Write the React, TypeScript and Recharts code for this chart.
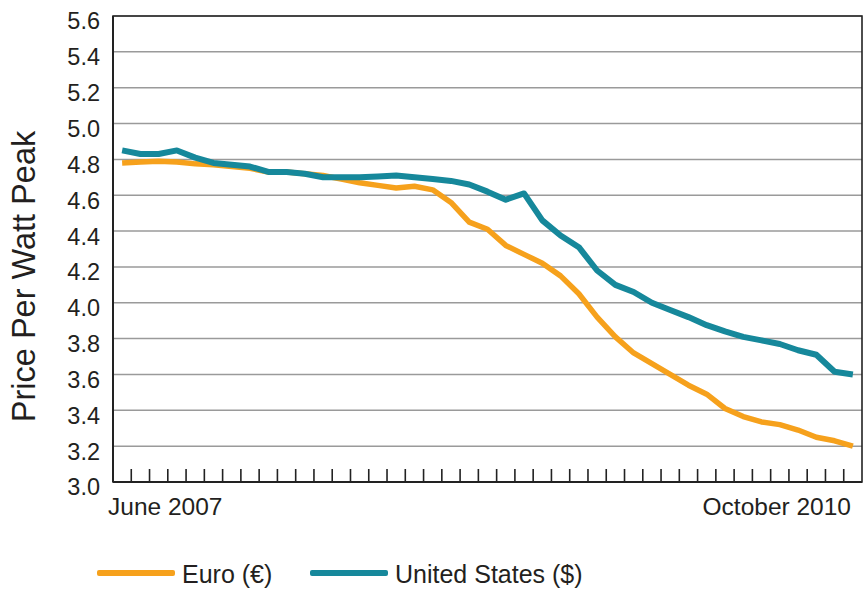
import React from 'react';
import { LineChart, Line, XAxis, YAxis, CartesianGrid, Legend, ReferenceArea, Label } from 'recharts';

const months = [
  'Jun 2007', 'Jul 2007', 'Aug 2007', 'Sep 2007', 'Oct 2007', 'Nov 2007', 'Dec 2007',
  'Jan 2008', 'Feb 2008', 'Mar 2008', 'Apr 2008', 'May 2008', 'Jun 2008', 'Jul 2008',
  'Aug 2008', 'Sep 2008', 'Oct 2008', 'Nov 2008', 'Dec 2008', 'Jan 2009', 'Feb 2009',
  'Mar 2009', 'Apr 2009', 'May 2009', 'Jun 2009', 'Jul 2009', 'Aug 2009', 'Sep 2009',
  'Oct 2009', 'Nov 2009', 'Dec 2009', 'Jan 2010', 'Feb 2010', 'Mar 2010', 'Apr 2010',
  'May 2010', 'Jun 2010', 'Jul 2010', 'Aug 2010', 'Sep 2010', 'Oct 2010',
];

const euroPrices = [
  4.78, 4.785, 4.79, 4.785, 4.775, 4.77, 4.76, 4.75, 4.73, 4.73, 4.72, 4.71, 4.69, 4.67,
  4.655, 4.64, 4.65, 4.63, 4.56, 4.45, 4.41, 4.32, 4.27, 4.22, 4.15, 4.05, 3.92, 3.81,
  3.72, 3.66, 3.6, 3.54, 3.49, 3.41, 3.365, 3.335, 3.32, 3.29, 3.25, 3.23, 3.2,
];

const usdPrices = [
  4.85, 4.83, 4.83, 4.85, 4.81, 4.78, 4.77, 4.76, 4.73, 4.73, 4.72, 4.7, 4.7, 4.7,
  4.705, 4.71, 4.7, 4.69, 4.68, 4.66, 4.62, 4.575, 4.61, 4.46, 4.375, 4.31, 4.18, 4.1,
  4.06, 4.0, 3.96, 3.92, 3.875, 3.84, 3.81, 3.79, 3.77, 3.735, 3.71, 3.615, 3.6,
];

const yTicks = [3.0, 3.2, 3.4, 3.6, 3.8, 4.0, 4.2, 4.4, 4.6, 4.8, 5.0, 5.2, 5.4, 5.6];
const xEdgeLabels = ['June 2007', 'October 2010'];
const seriesNames = ['Euro (€)', 'United States ($)'];

const data = months.map((m, i) => ({ idx: i, month: m, euro: euroPrices[i], usd: usdPrices[i] }));
const xTicks = [-0.5, ...months.slice(1).map((_, i) => i + 0.5), months.length - 0.5];

const FONT = "'Liberation Sans', Arial, sans-serif";
const TEXT = '#231f20';
const ORANGE = '#F6A11C';
const TEAL = '#16889B';

const XTick = (props: any) => {
  const { x, y, payload } = props;
  const v = payload.value;
  if (v < 0) {
    return (
      <text x={x - 5} y={y + 33} textAnchor="start" fontFamily={FONT} fontSize={24.5} fill={TEXT}>
        {xEdgeLabels[0]}
      </text>
    );
  }
  if (v > months.length - 1) {
    return (
      <text x={x - 11} y={y + 33} textAnchor="end" fontFamily={FONT} fontSize={24.5} fill={TEXT}>
        {xEdgeLabels[1]}
      </text>
    );
  }
  return <line x1={x} x2={x} y1={y} y2={y - 13} stroke="#222" strokeWidth={1.6} />;
};

const YTick = (props: any) => {
  const { x, y, payload } = props;
  return (
    <text x={x} y={y + 5} dy="0.36em" textAnchor="end" fontFamily={FONT} fontSize={23.5} fill={TEXT}>
      {Number(payload.value).toFixed(1)}
    </text>
  );
};

const renderTitle = () => (
  <text
    transform="translate(35,276.5) rotate(-90)"
    textAnchor="middle"
    fontFamily={FONT}
    fontSize={32.5}
    fill={TEXT}
  >
    Price Per Watt Peak
  </text>
);

const legendLeft = [97, 310];

const renderLegend = (props: any) => {
  const payload = props.payload || [];
  return (
    <div style={{ position: 'relative', width: 864, height: 75, fontFamily: FONT }}>
      {payload.map((p: any, i: number) => (
        <React.Fragment key={i}>
          <div
            style={{
              position: 'absolute',
              left: legendLeft[i],
              top: 48,
              width: 78,
              height: 6,
              borderRadius: 2,
              background: p.color,
            }}
          />
          <div
            style={{
              position: 'absolute',
              left: legendLeft[i] + 85,
              top: 36,
              height: 32,
              lineHeight: '32px',
              fontSize: 25,
              color: TEXT,
              whiteSpace: 'nowrap',
            }}
          >
            {p.value}
          </div>
        </React.Fragment>
      ))}
    </div>
  );
};

export default function App() {
  return (
    <div style={{ position: 'absolute', left: 0, top: 0, background: '#fff' }}>
      <LineChart
        width={864}
        height={597}
        data={data}
        margin={{ top: 16, right: 2, bottom: 0, left: 0 }}
      >
        <CartesianGrid vertical={false} stroke="#9a9a9a" strokeWidth={1.5} />
        <XAxis
          dataKey="idx"
          type="number"
          domain={[-0.5, months.length - 0.5]}
          ticks={xTicks}
          interval={0}
          height={40}
          tickSize={0}
          tickMargin={0}
          tickLine={false}
          axisLine={{ stroke: '#222', strokeWidth: 2 }}
          tick={<XTick />}
        />
        <YAxis
          type="number"
          domain={[3.0, 5.6]}
          ticks={yTicks}
          interval={0}
          width={113}
          tickSize={0}
          tickMargin={13}
          tickLine={false}
          axisLine={{ stroke: '#222', strokeWidth: 2 }}
          tick={<YTick />}
        >
          <Label value="Price Per Watt Peak" content={renderTitle} />
        </YAxis>
        <ReferenceArea
          x1={-0.5}
          x2={months.length - 0.5}
          y1={3.0}
          y2={5.6}
          fill="none"
          fillOpacity={0}
          stroke="#222"
          strokeWidth={1.6}
        />
        <Legend verticalAlign="bottom" align="left" content={renderLegend} wrapperStyle={{ left: 0 }} />
        <Line
          name={seriesNames[0]}
          dataKey="euro"
          stroke={ORANGE}
          strokeWidth={5.5}
          dot={false}
          type="linear"
          strokeLinejoin="round"
          isAnimationActive={false}
        />
        <Line
          name={seriesNames[1]}
          dataKey="usd"
          stroke={TEAL}
          strokeWidth={6}
          dot={false}
          type="linear"
          strokeLinejoin="round"
          isAnimationActive={false}
        />
      </LineChart>
    </div>
  );
}
